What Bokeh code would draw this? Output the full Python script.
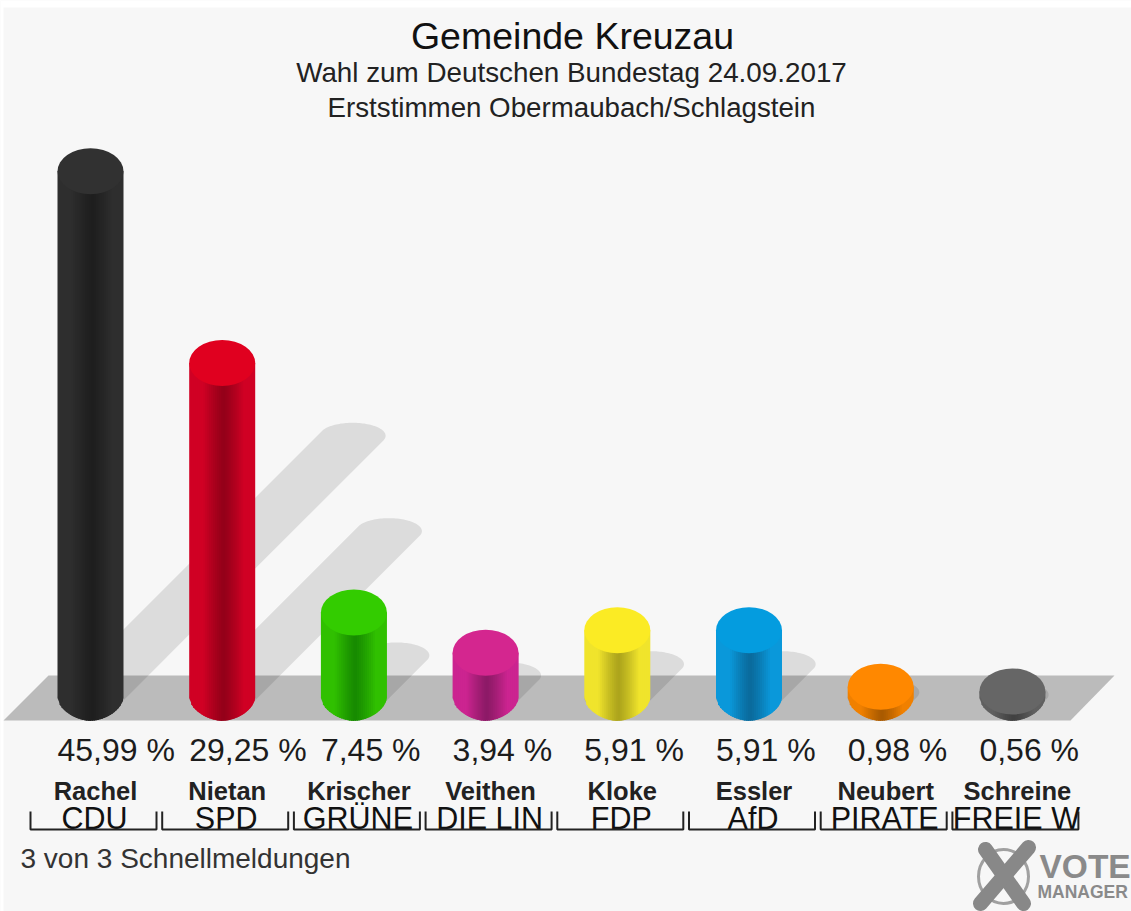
from bokeh.plotting import figure
from bokeh.models import Range1d
from bokeh.core.properties import value
from bokeh.embed import file_html
from bokeh.resources import INLINE
import numpy as np

# ---------- data ----------
candidates = ["Rachel", "Nietan", "Krischer", "Veithen", "Kloke", "Essler", "Neubert", "Schreine"]
parties = ["CDU", "SPD", "GRÜNE", "DIE LIN", "FDP", "AfD", "PIRATE", "FREIE W"]
percentages = [45.99, 29.25, 7.45, 3.94, 5.91, 5.91, 0.98, 0.56]
cap_colors = ["#313131", "#e0001f", "#33cc00", "#d4268f", "#fbeb24", "#049cdf", "#ff8800", "#666666"]
edge_colors = ["#2e2e2e", "#d00024", "#30c000", "#cc2490", "#f0e42c", "#0a98da", "#f08000", "#606060"]
core_colors = ["#1e1e1e", "#930019", "#178a00", "#8c1a66", "#aca41c", "#0a6a9c", "#a85a00", "#404040"]
title = "Gemeinde Kreuzau"
subtitle_1 = "Wahl zum Deutschen Bundestag 24.09.2017"
subtitle_2 = "Erststimmen Obermaubach/Schlagstein"
footer = "3 von 3 Schnellmeldungen"

# ---------- layout ----------
W, H = 1131, 911
BAR0, STEP = 90.0, 131.7     # centre of first bar, bar spacing (px)
BASE_Y, PCT = 697.4, 11.45   # y of the 0 % ellipse centre, px per percent
RX, RY = 33.0, 23.0          # cylinder ellipse radii
SH_PCT, SH_RY = 5.70, 13.0   # shadow length per percent, shadow tip radius

X = lambda px: (np.asarray(px, float) - BAR0) / STEP
Y = lambda px: (BASE_Y - np.asarray(px, float)) / PCT

p = figure(width=W, height=H, output_backend="svg", toolbar_location=None,
           x_range=Range1d(float(X(0)), float(X(W))),
           y_range=Range1d(float(Y(H)), float(Y(0))),
           min_border=0, background_fill_color="#f7f7f7", border_fill_color="#f7f7f7",
           outline_line_color=None)
p.axis.visible = False
p.grid.visible = False

FONT = value("Liberation Sans")


def txt(x, y, s, size, color="#1c1c1c", align="left", style="normal"):
    p.text(x=x, y=y, text=s, text_font=FONT, text_font_size=f"{size}px", text_color=color,
           text_align=align, text_baseline="alphabetic", text_font_style=style)


# white page strip at the top and left of the picture
p.patch(X([0, W, W, 3, 3, 0]), Y([0, 0, 7, 7, H, H]), fill_color="#ffffff", line_color=None)

# floor
p.patch(X([3, 48, 1114, 1070]), Y([720, 675, 675, 720]), fill_color="#bbbbbb", line_color=None)

# shadows
th = np.linspace(0, 2 * np.pi, 120, endpoint=False)
sx, sy = [], []
for i, v in enumerate(percentages):
    d = v * SH_PCT
    ex, ey = RX * np.cos(th), SH_RY * np.sin(th)
    far = (np.cos(th) / RX) * d + (np.sin(th) / SH_RY) * (-d) > 0
    px = BAR0 + i * STEP + ex + np.where(far, d, 0)
    py = BASE_Y + ey - np.where(far, d, 0)
    sx.append(X(px).tolist())
    sy.append(Y(py).tolist())
p.patches(sx, sy, fill_color="#000000", fill_alpha=0.105, line_color=None)


def rgb(h):
    return np.array([int(h[k:k + 2], 16) for k in (1, 3, 5)], float)


def ybot(w, e=1.75):
    return BASE_Y + RY * max(0.0, 1 - min(1.0, abs(w)) ** e) ** (1 / e)


# cylinders: a horizontal shading made of thin vertical strips, each overlapping the next
N = 33
edges = np.linspace(-1, 1, N + 1)
OV = 1.5 / RX
for i, v in enumerate(percentages):
    cx = BAR0 + i * STEP
    top = BASE_Y - v * PCT
    xs, ys, cols = [], [], []
    for k in range(N):
        a, b = edges[k], edges[k + 1]
        u = (a + b) / 2 - 0.04
        t = min(1.0, abs(u) / 0.62) ** 1.2
        c = rgb(core_colors[i]) * (1 - t) + rgb(edge_colors[i]) * t
        cols.append("#%02x%02x%02x" % tuple(int(round(q)) for q in c))
        b2 = min(1.0, b + OV)
        l, r = cx + a * RX, cx + b2 * RX
        xs.append(X([l, r, r, l]).tolist())
        ys.append(Y([top, top, ybot(b2), ybot(a)]).tolist())
    p.patches(xs, ys, fill_color=cols, line_color=None)
    p.ellipse(x=[i], y=[v], width=2 * RX, height=2 * RY, width_units="screen", height_units="screen",
              fill_color=cap_colors[i], line_color=None)

# percentages
for i, v in enumerate(percentages):
    lab = f"{v:.2f}".replace(".", ",") + " %"
    txt([float(X(BAR0 + i * STEP - RX))], [float(Y(749))], [lab], 32)

# candidates, parties and brackets
for i, (c, pa) in enumerate(zip(candidates, parties)):
    cx = BAR0 + i * STEP
    txt([float(X(cx + 5))], [float(Y(790))], [c], 25.5, color="#222222", align="center", style="bold")
    txt([float(X(cx + 4))], [float(Y(817))], [pa], 30.5, color="#111111", align="center")
    l, r = cx - 60, cx + 66
    p.line(X([l, l, r, r]), Y([811, 829, 829, 811]), line_color="#222222", line_width=2)

# headings
txt([float(X(572))], [float(Y(35))], [title], 37.5, color="#111111", align="center")
txt([float(X(571))], [float(Y(72))], [subtitle_1], 27.8, color="#222222", align="center")
txt([float(X(571))], [float(Y(107))], [subtitle_2], 27.7, color="#222222", align="center")
txt([float(X(20))], [float(Y(858))], [footer], 28, color="#333333")

# logo
p.ellipse(x=[float(X(1003))], y=[float(Y(876))], width=50, height=54, width_units="screen", height_units="screen",
          fill_color=None, line_color="#a0a0a0", line_width=3)
p.multi_line([X([985, 1023]).tolist(), X([1028, 980]).tolist()],
             [Y([849, 903]).tolist(), Y([847, 903]).tolist()],
             line_color="#888888", line_width=15, line_cap="round")
txt([float(X(1039))], [float(Y(866))], ["VOTE"], 33.5, color="#8a8a8a", style="bold")
txt([float(X(1037))], [float(Y(891))], ["MANAGER"], 17.5, color="#8a8a8a", style="bold")

open("out.html", "w").write(file_html(p, INLINE))
